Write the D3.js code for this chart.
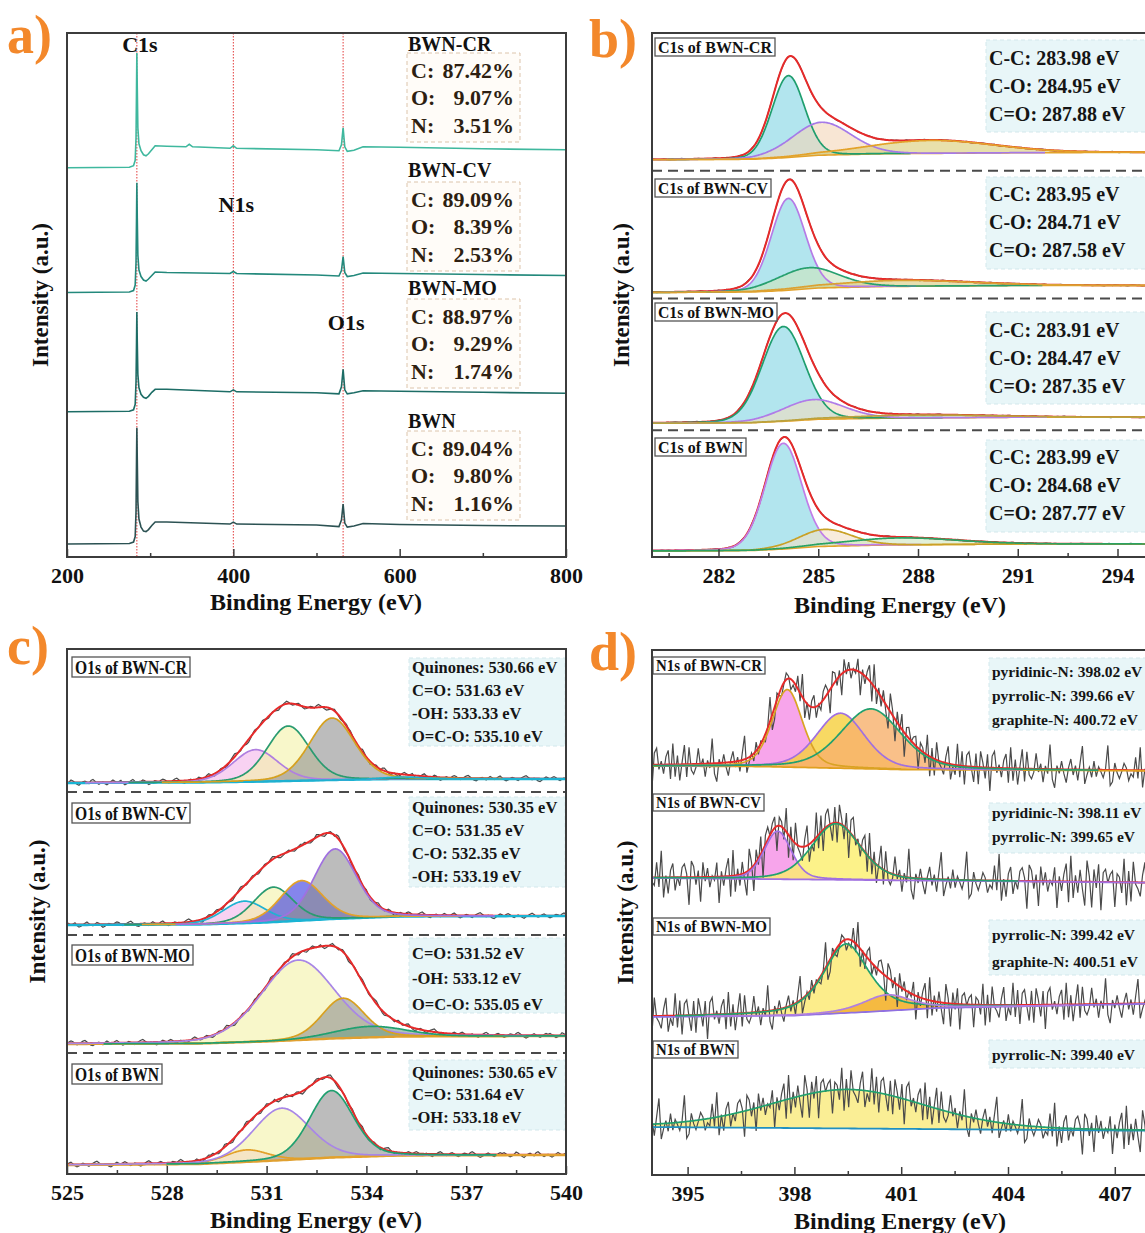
<!DOCTYPE html>
<html>
<head>
<meta charset="utf-8">
<script src="https://cdn.jsdelivr.net/npm/d3@7"></script>
<style>
body { margin: 0; background: #fff; }
text { font-family: "Liberation Serif", "Times New Roman", serif; font-weight: bold; }
</style>
</head>
<body>
<svg id="chart" width="1145" height="1233"></svg>
<script>
// ---------- data ----------
// hand-read jitter of the raw spectra (shared table, scaled per spectrum)
const noise = [0.35,0.62,0.18,-0.27,-0.71,-0.44,0.12,0.89,0.53,-0.08,
  -0.56,-0.93,-0.31,0.22,0.47,0.05,-0.38,0.66,0.98,0.41,
  -0.19,-0.62,-0.25,0.14,-0.47,-0.82,-0.36,0.28,0.73,0.31,
  -0.11,0.19,0.57,-0.34,-0.88,-0.58,-0.06,0.43,0.84,0.27,
  -0.21,-0.49,0.09,0.61,0.36,-0.42,-0.97,-0.64,-0.15,0.32,
  0.08,-0.28,0.44,0.77,0.52,-0.03,-0.51,-0.33,0.26,0.68,
  0.92,0.38,-0.24,-0.69,-0.86,-0.40,0.06,0.29,-0.13,-0.55,
  0.17,0.63,0.24,-0.37,-0.12,0.48,0.81,0.21,-0.45,-0.79,
  -0.52,0.02,0.39,0.13,-0.29,-0.66,-0.18,0.34,0.71,0.99,
  0.46,-0.07,-0.41,0.11,-0.23,-0.74,-0.95,-0.48,0.15,0.56,
  0.25,-0.16,0.37,0.69,0.33,-0.26,-0.61,-0.17,0.23,-0.09,
  -0.53,-0.85,-0.39,0.07,0.51,0.86,0.42,-0.14,-0.46,-0.22,
  0.31,0.58,0.16,-0.35,-0.73,-0.43,0.04,0.45,0.27,-0.12,
  0.59,0.94,0.49,-0.05,-0.57,-0.91,-0.60,-0.20,0.18,0.54,
  0.10,-0.32,-0.68,-0.30,0.26,0.64]

const samples = ['BWN-CR', 'BWN-CV', 'BWN-MO', 'BWN']

// a) survey spectra [binding energy, intensity above own baseline]
const surveyOffsets = [78, 53, 29.1, 2.6]
const surveyCR = [[200,0],[275,0.1],[280,0.4],[282,1.5],[283,6],[283.6,16],[284,23],[284.5,16],[285.2,8],[286.5,4.8],[289,3.4],[292,2.6],[295,2.4],[298,2.8],[302,3.6],[306,4.4],[320,4.3],[343,4.2],[347,4.7],[351,4.2],[396,3.9],[400,4.4],[404,3.9],[500,3.6],[527,3.4],[530,4.6],[532,8],[534,4.2],[537,3.3],[545,3.5],[556,4.2],[600,4.1],[700,3.8],[800,3.6]]
const surveyCV = [[200,0],[275,0.1],[280,0.4],[282,1.5],[283,6],[283.6,15],[284,22],[284.5,15],[285.2,7.5],[286.5,4.5],[289,3.2],[292,2.5],[295,2.3],[298,2.7],[302,3.4],[306,4.1],[320,4.0],[396,3.8],[400,4.2],[404,3.8],[500,3.5],[527,3.3],[530,4.4],[532,7.2],[534,4.0],[537,3.2],[545,3.4],[556,3.9],[600,3.8],[700,3.6],[800,3.4]]
const surveyMO = [[200,0],[275,0.1],[280,0.4],[282,1.5],[283,6],[283.6,14],[284,20],[284.5,14],[285.2,7.5],[286.5,4.8],[289,3.5],[292,2.9],[295,2.7],[298,3.1],[302,3.9],[306,4.5],[320,4.5],[396,4.0],[400,4.4],[404,4.0],[500,3.8],[527,3.6],[530,5],[532,8.5],[534,4.4],[537,3.6],[545,3.8],[556,4.2],[600,4.1],[700,3.9],[800,3.7]]
const surveyBWN = [[200,0],[275,0.1],[280,0.4],[282,1.5],[283,6.5],[283.6,17],[284,23.3],[284.5,17],[285.2,8.5],[286.5,5],[289,3.4],[292,2.6],[295,2.5],[298,2.9],[302,3.7],[306,4.4],[320,4.4],[396,4.0],[400,4.4],[404,4.0],[500,3.8],[527,3.5],[530,4.8],[532,8],[534,4.2],[537,3.4],[545,3.6],[556,4.1],[600,3.9],[700,3.7],[800,3.6]]
const surveys = [surveyCR, surveyCV, surveyMO, surveyBWN]
const coreNames = ['C1s', 'N1s', 'O1s']
const coreEnergies = [284, 400, 532]
const contentC = ['87.42%', '89.09%', '88.97%', '89.04%']
const contentO = ['9.07%', '8.39%', '9.29%', '9.80%']
const contentN = ['3.51%', '2.53%', '1.74%', '1.16%']

// b) C1s fits: centre, height, FWHM of C-C, C-O, C=O
const c1sEnergies = [
  ['C-C: 283.98 eV', 'C-O: 284.95 eV', 'C=O: 287.88 eV'],
  ['C-C: 283.95 eV', 'C-O: 284.71 eV', 'C=O: 287.58 eV'],
  ['C-C: 283.91 eV', 'C-O: 284.47 eV', 'C=O: 287.35 eV'],
  ['C-C: 283.99 eV', 'C-O: 284.68 eV', 'C=O: 287.77 eV']]
const c1sCenters = [[284.1,285.1,288.4],[284.1,284.7,287.5],[283.95,284.85,288.0],[283.95,285.2,287.5]]
const c1sHeights = [[16.4,6.6,2.6],[18.4,4.2,1.2],[19.0,4.0,0.6],[21.2,3.4,1.4]]
const c1sFwhm = [[1.15,2.1,4.5],[1.2,2.2,5],[1.5,2.2,5],[1.3,1.9,4]]
const c1sBackground = [
  [[280,79.6],[283,79.7],[284,80.0],[285,80.5],[287,80.8],[291,81.0],[296,81.1]],
  [[280,53.0],[283,53.1],[284,53.4],[285,53.9],[287,54.2],[291,54.4],[296,54.4]],
  [[280,26.8],[283,26.9],[284,27.2],[285,27.6],[287,27.8],[291,28.0],[296,28.0]],
  [[280,1.2],[283,1.3],[284,1.6],[285,2.1],[287,2.4],[291,2.6],[296,2.6]]]

// c) O1s fits
const o1sEnergies = [
  ['Quinones: 530.66 eV', 'C=O: 531.63 eV', '-OH: 533.33 eV', 'O=C-O: 535.10 eV'],
  ['Quinones: 530.35 eV', 'C=O: 531.35 eV', 'C-O: 532.35 eV', '-OH: 533.19 eV'],
  ['C=O: 531.52 eV', '-OH: 533.12 eV', 'O=C-O: 535.05 eV'],
  ['Quinones: 530.65 eV', 'C=O: 531.64 eV', '-OH: 533.18 eV']]
const o1sCenters = [[530.67,531.65,532.97,535.1],[530.33,531.2,532.05,533.06],[531.95,533.3,534.1],[530.4,531.45,532.95]]
const o1sHeights = [[6.4,11,12.4,0.4],[4.4,7,8,14],[16,8,2.2],[2.4,10.4,13.4]]
const o1sFwhm = [[1.6,1.5,1.6,1.5],[1.5,1.4,1.5,1.5],[2.6,1.5,2.5],[1.5,2.0,1.55]]
const o1sBackground = [
  [[525,78.2],[529,78.3],[531,78.5],[533,78.8],[535,79.0],[540,79.0]],
  [[525,49.8],[529,49.9],[531,50.3],[533,51.0],[535,51.5],[540,51.6]],
  [[525,26.0],[529,26.1],[531,26.5],[533,27.1],[535,27.5],[540,27.6]],
  [[525,1.8],[529,2.0],[531,2.6],[533,3.3],[535,3.7],[540,3.8]]]

// d) N1s fits
const n1sEnergies = [
  ['pyridinic-N: 398.02 eV', 'pyrrolic-N: 399.66 eV', 'graphite-N: 400.72 eV'],
  ['pyridinic-N: 398.11 eV', 'pyrrolic-N: 399.65 eV'],
  ['pyrrolic-N: 399.42 eV', 'graphite-N: 400.51 eV'],
  ['pyrrolic-N: 399.40 eV']]
const n1sCenters = [[397.8,399.3,400.15],[397.53,399.17],[399.45,400.6],[399.5]]
const n1sHeights = [[15.5,11,12],[9.6,11.2],[13.8,3.2],[7.8]]
const n1sFwhm = [[1.0,1.6,2.0],[0.9,1.6],[1.5,1.6],[5.2]]
const n1sMix = [[0.3,0.3,0.3],[0.3,0.3],[0.6,0.5],[0.2]]
const n1sBackground = [
  [[394,81.8],[397,81.7],[399,81.4],[401,81.1],[409,80.8]],
  [[394,59.4],[409,58.4]],
  [[394,31.6],[398,31.9],[400,32.6],[402,33.4],[409,34.4]],
  [[394,9.6],[409,8.8]]]
const n1sNoise = [5.0, 5.8, 5.2, 5.4]

// ---------- styles / layout ----------
const surveyColors = ['#3fb89e', '#23897c', '#1d6d66', '#2c5253']
const c1sLines = [['#1f9e6e','#a57ae8','#e3a22a'],['#b57be6','#27a06f','#dba132'],['#1f9e6e','#b07ce8','#b9a23e'],['#c07de8','#c9a126','#2aa262']]
const c1sFills = [['#7fd3e3','#f3d6b8','#d9cc73'],['#7fd3e3','#cde5bd','#d6c97c'],['#7fd3e3','#f1dcc0','#c6d9a0'],['#7fd3e3','#f3dfc4','#cfe6bf']]
const o1sLines = [['#b07fe0','#2a9b70','#d6a11f','#1fb0d0'],['#1fb2d2','#2a9b70','#e3a12a','#a070e0'],['#a886e6','#d8a020','#20a070'],['#e3a12a','#a886e6','#20a070']]
const o1sFills = [['#f4b4ea','#f4f1a6','#8f8f8f','#9adbe8'],['#f4b4ea','#f4f1a6','#3434e0','#8f8f8f'],['#f4f1a6','#8f8f8f','#6fa088'],['#f4b4ea','#f4f1a6','#8f8f8f']]
const o1sBase = ['#1ab4d4', '#1ab4d4', '#e0a030', '#e0a030']
const n1sLines = [['#d9a324','#a070e0','#22a06e'],['#a070e0','#22a06e'],['#22a06e','#b080e0'],['#22a06e']]
const n1sFills = [['#f58fe6','#f6cf3c','#f7b06c'],['#f58fe6','#fbef6c'],['#fbe86e','#f3ad2e'],['#f9ea7a']]
const n1sBase = ['#e0a020', '#a070e0', '#9070e0', '#2090c0']
const ORANGE = '#f3882b'
const RED = '#e62a2a'

const pA = {left: 67, right: 566, top: 33, bottom: 557}
const pB = {left: 652, right: 1184, top: 33, bottom: 557}
const pC = {left: 67, right: 566, top: 649, bottom: 1174}
const pD = {left: 652, right: 1186, top: 650, bottom: 1175}

let svg = d3.select('#chart')

let xA = d3.scaleLinear().domain([200, 800]).range([pA.left, pA.right])
let xB = d3.scaleLinear().domain([280, 296]).range([pB.left, pB.right])
let xC = d3.scaleLinear().domain([525, 540]).range([pC.left, pC.right])
let xD = d3.scaleLinear().domain([394, 409]).range([pD.left, pD.right])
let yScale = (p) => d3.scaleLinear().domain([0, 105]).range([p.bottom, p.top])
let yA = yScale(pA), yB = yScale(pB), yC = yScale(pC), yD = yScale(pD)

// pseudo-Voigt line shape for a fitted component
let pv = (x, c, h, w, m) => {
  let t = (x - c) / w
  return h * ((1 - m) * Math.exp(-4 * Math.LN2 * t * t) + m / (1 + 4 * t * t))
}

let clipId = 0
let makePanel = (p) => {
  let g = svg.append('g')
  let id = 'clip' + (clipId++)
  svg.append('clipPath').attr('id', id).append('rect')
     .attr('x', p.left).attr('y', p.top).attr('width', p.right - p.left).attr('height', p.bottom - p.top)
  let inner = g.append('g').attr('clip-path', 'url(#' + id + ')')
  return {g, inner}
}

let drawFrame = (g, p) => {
  g.append('rect')
   .attr('x', p.left).attr('y', p.top)
   .attr('width', p.right - p.left).attr('height', p.bottom - p.top)
   .attr('fill', 'none').attr('stroke', '#3c3c3c').attr('stroke-width', 2)
}

let drawAxis = (g, x, p, major, minor) => {
  g.append('g')
   .attr('transform', 'translate(0,' + p.bottom + ')')
   .call(d3.axisBottom(x).tickValues(minor).tickSizeInner(-4).tickSizeOuter(0).tickFormat(''))
   .call(s => s.select('.domain').remove())
   .selectAll('line').attr('stroke', '#3c3c3c').attr('stroke-width', 1.5)
  let ax = g.append('g')
   .attr('transform', 'translate(0,' + p.bottom + ')')
   .call(d3.axisBottom(x).tickValues(major).tickSizeInner(-8).tickSizeOuter(0).tickPadding(10).tickFormat(d3.format('d')))
  ax.select('.domain').remove()
  ax.selectAll('line').attr('stroke', '#3c3c3c').attr('stroke-width', 1.5)
  ax.selectAll('text')
    .attr('font-family', '"Liberation Serif", "Times New Roman", serif')
    .attr('font-size', 22).attr('font-weight', 'bold').attr('fill', '#111')
}

let drawTitles = (g, p, letter, letterX, letterY, xTitleX, xTitleY, yTitleX) => {
  g.append('text').attr('x', letterX).attr('y', letterY).attr('font-size', 54).attr('fill', ORANGE).text(letter)
  g.append('text').attr('x', xTitleX)
   .attr('y', xTitleY).attr('text-anchor', 'middle').attr('font-size', 24).attr('fill', '#111')
   .text('Binding Energy (eV)')
  g.append('text')
   .attr('transform', 'translate(' + yTitleX + ',' + ((p.top + p.bottom) / 2) + ') rotate(-90)')
   .attr('text-anchor', 'middle').attr('dy', '0.35em').attr('font-size', 23).attr('fill', '#111')
   .text('Intensity (a.u.)')
}

let labelBox = (g, x0, y0, w, h, txt, fs) => {
  g.append('rect').attr('x', x0).attr('y', y0).attr('width', w).attr('height', h)
   .attr('fill', '#fff').attr('stroke', '#555').attr('stroke-width', 1.3)
  g.append('text').attr('x', x0 + 3).attr('y', y0 + h - 3.5).attr('font-size', fs).attr('fill', '#111')
   .attr('textLength', w - 6).attr('lengthAdjust', 'spacingAndGlyphs').text(txt)
}

let energyBox = (g, x0, y0, w, h, lines, firstY, gap, fs) => {
  g.append('rect').attr('x', x0).attr('y', y0).attr('width', w).attr('height', h)
   .attr('fill', '#e8f6f8').attr('stroke', '#d3e8ec').attr('stroke-dasharray', '4,3')
  lines.forEach((t, i) => {
    g.append('text').attr('x', x0 + 3).attr('y', firstY + i * gap)
     .attr('font-size', fs).attr('fill', '#151515').text(t)
  })
}

let drawFit = (g, x, y, o) => {
  let bg = d3.scaleLinear().domain(o.bg.map(d => d[0])).range(o.bg.map(d => d[1]))
  let [lo, hi] = x.domain()
  let total = (v) => bg(v) + d3.sum(o.c, (c, k) => pv(v, c, o.h[k], o.w[k], o.m[k]))
  let comps = o.c.map((c, k) => {
    let a = Math.max(lo, c - 3.2 * o.w[k]), b = Math.min(hi, c + 3.2 * o.w[k])
    return d3.range(a, b + 1e-9, 0.02).map(v => [v, bg(v), bg(v) + pv(v, c, o.h[k], o.w[k], o.m[k])])
  })
  let area = d3.area().x(d => x(d[0])).y0(d => y(d[1])).y1(d => y(d[2]))
  let line = d3.line().x(d => x(d[0])).y(d => y(d[2]))
  comps.forEach((pts, k) => {
    g.append('path').datum(pts).attr('d', area).attr('fill', o.fills[k]).attr('fill-opacity', o.fillOp)
  })
  let raw = d3.range(lo, hi + 1e-9, o.step)
    .map((v, i) => [v, total(v) + noise[(i * o.hop + o.off) % noise.length] * o.amp])
  g.append('path').datum(raw)
   .attr('d', d3.line().x(d => x(d[0])).y(d => y(d[1])))
   .attr('fill', 'none').attr('stroke', '#4a4a4a').attr('stroke-width', 1.2)
  if (o.c.length > 1) {
    let env = d3.range(lo, hi + 1e-9, 0.02).map(v => [v, total(v)])
    g.append('path').datum(env)
     .attr('d', d3.line().x(d => x(d[0])).y(d => y(d[1])))
     .attr('fill', 'none').attr('stroke', RED).attr('stroke-width', 2)
  }
  g.append('path').datum(d3.range(lo, hi + 1e-9, 0.1).map(v => [v, bg(v)]))
   .attr('d', d3.line().x(d => x(d[0])).y(d => y(d[1])))
   .attr('fill', 'none').attr('stroke', o.base).attr('stroke-width', o.baseW)
  comps.forEach((pts, k) => {
    g.append('path').datum(pts).attr('d', line)
     .attr('fill', 'none').attr('stroke', o.lines[k]).attr('stroke-width', 1.7)
  })
}

let separators = (g, x, y, vals) => {
  vals.forEach(v => {
    g.append('line').attr('x1', x.range()[0]).attr('x2', x.range()[1])
     .attr('y1', y(v)).attr('y2', y(v))
     .attr('stroke', '#4a4a4a').attr('stroke-width', 2).attr('stroke-dasharray', '10,6')
  })
}

// ---------- a) survey ----------
let A = makePanel(pA)
coreEnergies.forEach(e => {
  A.inner.append('line').attr('x1', xA(e)).attr('x2', xA(e)).attr('y1', pA.top).attr('y2', pA.bottom)
   .attr('stroke', '#e23b3b').attr('stroke-width', 1).attr('stroke-dasharray', '1.5,1.5')
})
surveys.forEach((s, i) => {
  A.inner.append('path').datum(s)
   .attr('d', d3.line().x(d => xA(d[0])).y(d => yA(d[1] + surveyOffsets[i])))
   .attr('fill', 'none').attr('stroke', surveyColors[i]).attr('stroke-width', 1.6)
})
const coreLabelY = [52, 212, 330]
coreNames.forEach((n, i) => {
  A.g.append('text').attr('x', xA(coreEnergies[i]) + 3).attr('y', coreLabelY[i])
   .attr('text-anchor', 'middle').attr('font-size', 22).attr('fill', '#111').text(n)
})
const compTitleY = [51, 177, 295, 428]
const compBoxY = [53, 182, 299, 431]
samples.forEach((s, i) => {
  A.g.append('text').attr('x', 408).attr('y', compTitleY[i]).attr('font-size', 20).attr('fill', '#111').text(s)
  A.g.append('rect').attr('x', 407).attr('y', compBoxY[i]).attr('width', 113).attr('height', 89)
   .attr('fill', '#fffcf8').attr('stroke', '#dcc4ab').attr('stroke-dasharray', '4,3')
  let rows = [['C:', contentC[i]], ['O:', contentO[i]], ['N:', contentN[i]]]
  rows.forEach((r, k) => {
    let yy = compBoxY[i] + 24.5 + k * 27.5
    A.g.append('text').attr('x', 411).attr('y', yy).attr('font-size', 22).attr('fill', '#2e1f12').text(r[0])
    A.g.append('text').attr('x', 514).attr('y', yy).attr('text-anchor', 'end').attr('font-size', 22).attr('fill', '#2e1f12').text(r[1])
  })
})
drawFrame(A.g, pA)
drawAxis(A.g, xA, pA, [200, 400, 600, 800], [300, 500, 700])
drawTitles(A.g, pA, 'a)', 7, 53, 316, 610, 40)

// ---------- b) C1s ----------
let B = makePanel(pB)
const bLabelY = [38, 179, 303, 438], bLabelW = [120, 116, 122, 91]
const bTextY = [65, 201, 337, 464], bBoxY = [40, 177, 312, 440]
samples.forEach((s, i) => {
  drawFit(B.inner, xB, yB, {bg: c1sBackground[i], c: c1sCenters[i], h: c1sHeights[i], w: c1sFwhm[i],
    m: c1sCenters[i].map(() => 0.1), fills: c1sFills[i], lines: c1sLines[i], fillOp: 0.6,
    base: '#e3a22a', baseW: 1.6, amp: 0.12, step: 0.05, hop: 1, off: i * 31})
})
separators(B.inner, xB, yB, [77.4, 51.8, 25.4])
samples.forEach((s, i) => {
  labelBox(B.g, 655, bLabelY[i], bLabelW[i], 18, 'C1s of ' + s, 17)
  energyBox(B.g, 986, bBoxY[i], 170, 92, c1sEnergies[i], bTextY[i], 28, 20)
})
drawFrame(B.g, pB)
drawAxis(B.g, xB, pB, [282, 285, 288, 291, 294], [280.5, 283.5, 286.5, 289.5, 292.5, 295.5])
drawTitles(B.g, pB, 'b)', 589, 57, 900, 613, 621)

// ---------- c) O1s ----------
let C = makePanel(pC)
const cLabelY = [657, 803, 945, 1064], cLabelW = [118, 118, 121, 90]
const cTextY = [672.5, 812.5, 958.5, 1077.5], cGap = [23, 23, 25.5, 22.5]
const cBoxY = [658, 797, 938, 1060], cBoxH = [88, 90, 75, 70]
samples.forEach((s, i) => {
  drawFit(C.inner, xC, yC, {bg: o1sBackground[i], c: o1sCenters[i], h: o1sHeights[i], w: o1sFwhm[i],
    m: o1sCenters[i].map(() => 0.2), fills: o1sFills[i], lines: o1sLines[i], fillOp: 0.6,
    base: o1sBase[i], baseW: 2.4, amp: 0.6, step: 0.06, hop: 1, off: i * 23 + 5})
})
separators(C.inner, xC, yC, [76.4, 47.8, 24.2])
samples.forEach((s, i) => {
  labelBox(C.g, 72, cLabelY[i], cLabelW[i], 20, 'O1s of ' + s, 19)
  energyBox(C.g, 409, cBoxY[i], 156, cBoxH[i], o1sEnergies[i], cTextY[i], cGap[i], 16.5)
})
drawFrame(C.g, pC)
drawAxis(C.g, xC, pC, [525, 528, 531, 534, 537, 540], [526.5, 529.5, 532.5, 535.5, 538.5])
drawTitles(C.g, pC, 'c)', 7, 664, 316, 1228, 37)

// ---------- d) N1s ----------
let D = makePanel(pD)
const dLabelY = [657, 794, 918, 1041], dLabelW = [112, 111, 117, 85]
const dTextY = [677, 818, 940, 1060], dGap = [24, 24, 27, 0]
const dBoxY = [658, 803, 920, 1040], dBoxH = [72, 50, 55, 28]
samples.forEach((s, i) => {
  drawFit(D.inner, xD, yD, {bg: n1sBackground[i], c: n1sCenters[i], h: n1sHeights[i], w: n1sFwhm[i],
    m: n1sMix[i], fills: n1sFills[i], lines: n1sLines[i], fillOp: 0.8,
    base: n1sBase[i], baseW: 1.8, amp: n1sNoise[i], step: 0.065, hop: 3, off: i * 37 + 11})
})
samples.forEach((s, i) => {
  labelBox(D.g, 653, dLabelY[i], dLabelW[i], 17, 'N1s of ' + s, 17)
  energyBox(D.g, 989, dBoxY[i], 170, dBoxH[i], n1sEnergies[i], dTextY[i], dGap[i], 15.5)
})
drawFrame(D.g, pD)
drawAxis(D.g, xD, pD, [395, 398, 401, 404, 407], [396.5, 399.5, 402.5, 405.5, 408.5])
drawTitles(D.g, pD, 'd)', 589, 670, 900, 1229, 625)
</script>
</body>
</html>
